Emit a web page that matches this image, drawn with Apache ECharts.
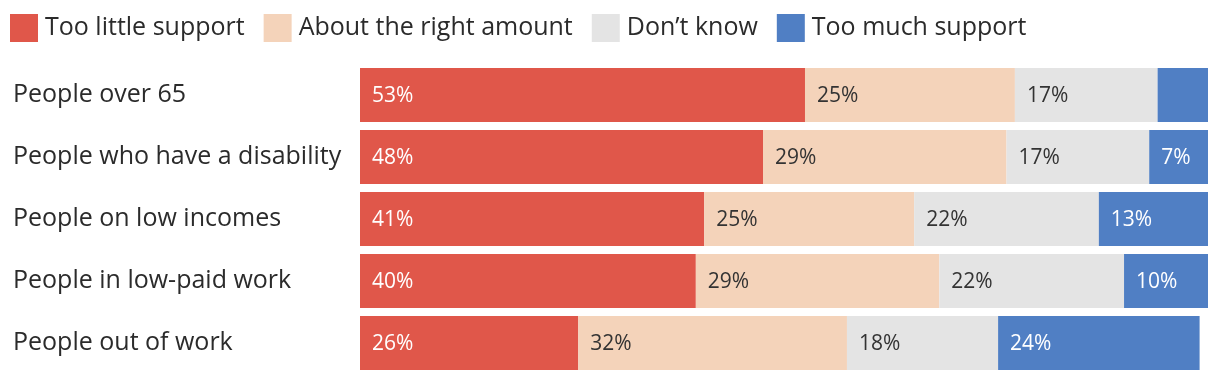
<!DOCTYPE html>
<html>
<head>
<meta charset="utf-8">
<script src="https://cdn.jsdelivr.net/npm/echarts@6/dist/echarts.min.js"></script>
<style>
html,body{margin:0;padding:0;background:#fff;}
#chart{width:1220px;height:382px;}
</style>
</head>
<body>
<div id="chart"></div>
<script>
const categories = ["People over 65", "People who have a disability", "People on low incomes", "People in low-paid work", "People out of work"];
const seriesNames = ["Too little support", "About the right amount", "Don\u2019t know", "Too much support"];
const tooLittle = [53, 48, 41, 40, 26];
const aboutRight = [25, 29, 25, 29, 32];
const dontKnow = [17, 17, 22, 22, 18];
const tooMuch = [6, 7, 13, 10, 24];
// row 1 "Too much support" segment carries no label in the reference
const tooMuchLabels = ["", "7%", "13%", "10%", "24%"];

const colors = ["#e0574a", "#f4d3ba", "#e4e4e4", "#507fc4"];
const labelColors = ["#ffffff", "#333333", "#333333", "#ffffff"];
const FONT = "Open Sans";
const seriesData = [tooLittle, aboutRight, dontKnow, tooMuch];

const chart = echarts.init(document.getElementById('chart'), null, {renderer: 'canvas'});
const series = seriesData.map((vals, i) => ({
  name: seriesNames[i],
  type: 'bar',
  stack: 'total',
  barWidth: 54,
  data: vals,
  itemStyle: {color: colors[i]},
  label: {
    show: true,
    position: 'insideLeft',
    distance: 12,
    offset: [0, 1],
    color: labelColors[i],
    fontFamily: FONT,
    fontSize: 21,
    formatter: (p) => i === 3 ? tooMuchLabels[p.dataIndex] : p.value + '%'
  },
  emphasis: {disabled: true}
}));

chart.setOption({
  animation: false,
  legend: {
    left: 10,
    top: 14,
    padding: 0,
    itemWidth: 28,
    itemHeight: 28,
    itemGap: 19,
    icon: 'rect',
    textStyle: {fontFamily: FONT, fontSize: 25, color: '#2b2b2b', padding: [3, 0, 0, 2]},
    data: seriesNames
  },
  grid: {left: 360, right: 12, top: 64, bottom: 8, containLabel: false},
  xAxis: {
    type: 'value', min: 0, max: 101,
    show: false
  },
  yAxis: {
    type: 'category',
    inverse: true,
    data: categories,
    axisLine: {show: false},
    axisTick: {show: false},
    axisLabel: {
      align: 'left',
      margin: 347,
      fontFamily: FONT,
      fontSize: 25,
      color: '#2b2b2b',
      padding: [4, 0, 0, 0]
    }
  },
  series: series
});
</script>
</body>
</html>
